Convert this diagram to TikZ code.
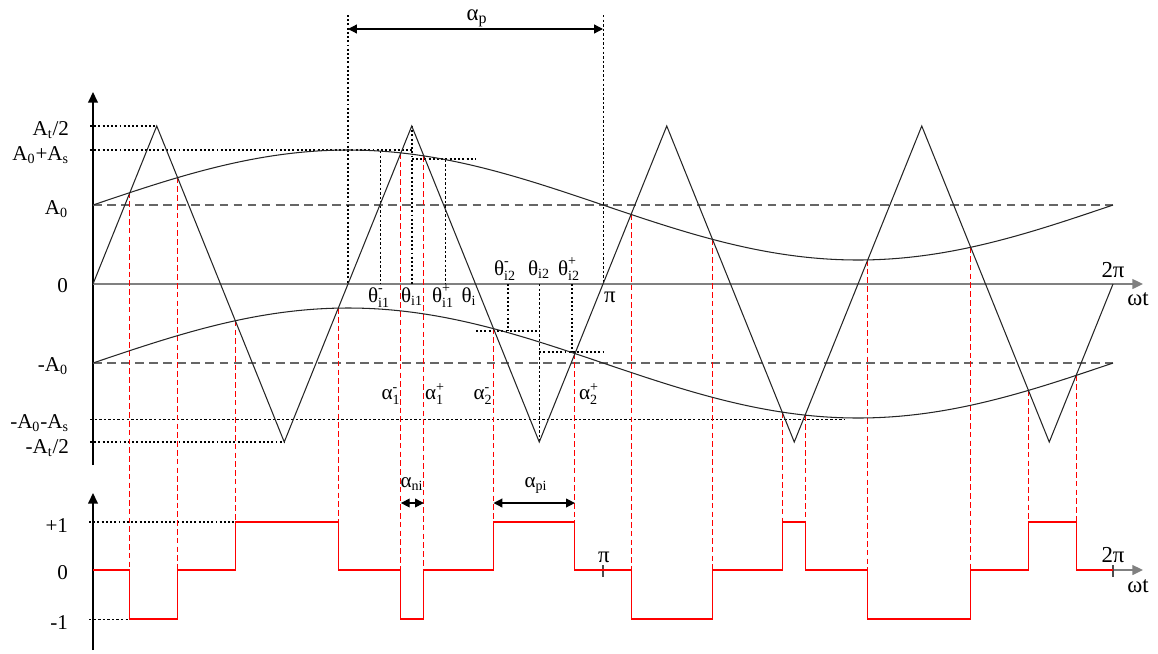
\documentclass[tikz,border=0pt]{standalone}
\usepackage{fontspec}
\setmainfont{Liberation Serif}
\usepackage{amsmath}
\usetikzlibrary{arrows.meta}
\newcommand\tx[1]{\text{#1}}
\begin{document}
\begin{tikzpicture}[x=0.02cm,y=-0.02cm,
  every node/.style={font=\fontsize{12}{14}\selectfont, inner sep=0pt, outer sep=0pt},
  leftlbl/.style={anchor=base east},
  midlbl/.style={anchor=base},
  biglbl/.style={anchor=base, font=\fontsize{13}{15}\selectfont},
  axisline/.style={line width=0.8pt, black, -{Triangle[length=6pt,width=5.5pt]}},
  zeroline/.style={line width=1.1pt, black!50, -{Triangle[length=6pt,width=5.5pt]}},
  wave/.style={line width=0.6pt, black!85},
  refdash/.style={line width=0.7pt, black!60, dash pattern=on 5pt off 3pt},
  thickdot/.style={line width=1.1pt, black, dash pattern=on 1.1pt off 1.3pt},
  thindot/.style={line width=0.55pt, black, dash pattern=on 1.4pt off 1.2pt},
  reddash/.style={line width=0.6pt, red, dash pattern=on 3.2pt off 1.8pt},
  pwm/.style={line width=0.6pt, red},
  tickmark/.style={line width=0.6pt, black!70},
  dimarrow/.style={line width=0.7pt, {Triangle[length=5pt,width=5pt]}-{Triangle[length=5pt,width=5pt]}}
]
\useasboundingbox (0,0) rectangle (1158,653);

% ---------- axes ----------
\coordinate (ua0) at (93,465);
\coordinate (ua1) at (93,92);
\coordinate (uz0) at (93,284);
\coordinate (uz1) at (1143,284);
\coordinate (la0) at (93,650);
\coordinate (la1) at (93,493);
\coordinate (lz0) at (1113,570);
\coordinate (lz1) at (1143,570);
\draw[axisline] (ua0) -- (ua1);
\draw[zeroline] (uz0) -- (uz1);
\draw[axisline] (la0) -- (la1);
\draw[zeroline] (lz0) -- (lz1);
\draw[tickmark] (603,565) -- (603,577);
\draw[tickmark] (1113,565) -- (1113,577);

% ---------- reference levels ----------
\draw[refdash] (93,205) -- (1113,205);
\draw[refdash] (93,363) -- (1113,363);
\draw[thickdot] (90,126) -- (156.75,126);
\draw[thickdot] (90,150) -- (411.75,150);
\draw[thindot] (90,419) -- (845,419);
\draw[thickdot] (90,442) -- (284.25,442);
\draw[thickdot] (89,522) -- (235.3,522);
\draw[thindot] (89,619) -- (129.9,619);

% ---------- alpha_p guides ----------
\coordinate (ap0) at (348,29);
\coordinate (ap1) at (603,29);
\draw[thickdot] (348,15) -- (348,284);
\draw[thindot] (603,15) -- (603,284);
\draw[dimarrow] (ap0) -- (ap1);

% ---------- sampling guides ----------
\draw[thindot] (380,151) -- (380,284);
\draw[thickdot] (411.75,126) -- (411.75,284);
\draw[thickdot] (411.75,159) -- (475.5,159);
\draw[thindot] (445,159.5) -- (445,284);
\draw[thickdot] (508,284) -- (508,331);
\draw[thickdot] (476,331) -- (539.25,331);
\draw[thindot] (539.25,284) -- (539.25,442);
\draw[thickdot] (572,284) -- (572,352);
\draw[thickdot] (539.25,352) -- (603,352);

% ---------- red projection lines ----------
\foreach \x in {129.9,177.6,400.9,423.8,631.1,712.4,867.75,970.75}
  \draw[reddash] (\x,{205-55*sin((\x-93)*0.3529412)}) -- (\x,570);
\foreach \x in {235.3,338.3,493.5,574.9,782.2,805.1,1028.6,1076.1}
  \draw[reddash] (\x,{363-55*sin((\x-93)*0.3529412)}) -- (\x,522);

% ---------- waves ----------
\draw[wave] plot[domain=93:1113, samples=120, smooth] (\x,{205-55*sin((\x-93)*0.3529412)});
\draw[wave] plot[domain=93:1113, samples=120, smooth] (\x,{363-55*sin((\x-93)*0.3529412)});
\draw[wave] (93,284) -- (156.75,126) -- (284.25,442) -- (411.75,126) -- (539.25,442)
  -- (666.75,126) -- (794.25,442) -- (921.75,126) -- (1049.25,442) -- (1113,284);

% ---------- PWM output ----------
\draw[pwm] (93,570) -- (129.9,570) -- (129.9,619) -- (177.6,619) -- (177.6,570)
  -- (235.3,570) -- (235.3,522) -- (338.3,522) -- (338.3,570)
  -- (400.9,570) -- (400.9,619) -- (423.8,619) -- (423.8,570)
  -- (493.5,570) -- (493.5,522) -- (574.9,522) -- (574.9,570)
  -- (631.1,570) -- (631.1,619) -- (712.4,619) -- (712.4,570)
  -- (782.2,570) -- (782.2,522) -- (805.1,522) -- (805.1,570)
  -- (867.75,570) -- (867.75,619) -- (970.75,619) -- (970.75,570)
  -- (1028.6,570) -- (1028.6,522) -- (1076.1,522) -- (1076.1,570) -- (1113,570);

% ---------- pulse width arrows ----------
\coordinate (an0) at (400.9,503);
\coordinate (an1) at (423.8,503);
\coordinate (pi0) at (493.5,503);
\coordinate (pi1) at (574.9,503);
\draw[dimarrow] (an0) -- (an1);
\draw[dimarrow] (pi0) -- (pi1);

% ---------- labels ----------
\node[leftlbl] (lAt) at (69,135) {$\tx{A}_{\tx{t}}\tx{/2}$};
\node[leftlbl] (lAs) at (69,160) {$\tx{A}_{\tx{0}}\tx{+A}_{\tx{s}}$};
\node[leftlbl] (lA0) at (68,214) {$\tx{A}_{\tx{0}}$};
\node[leftlbl] (l0) at (68,292) {0};
\node[leftlbl] (lmA0) at (68,371) {$\tx{-A}_{\tx{0}}$};
\node[leftlbl] (lmAs) at (69,428) {$\tx{-A}_{\tx{0}}\tx{-A}_{\tx{s}}$};
\node[leftlbl] (lmAt) at (69,453) {$\tx{-A}_{\tx{t}}\tx{/2}$};
\node[leftlbl] (lp1) at (68,532) {+1};
\node[leftlbl] (lb0) at (68,579) {0};
\node[leftlbl] (lm1) at (68,629) {-1};

\node[biglbl] (tap) at (477,20) {$\tx{α}_{\tx{p}}$};
\node[midlbl] (t1m) at (379,302) {$\tx{θ}^{\tx{-}}_{\tx{i1}}$};
\node[midlbl] (t1) at (412,302) {$\tx{θ}_{\tx{i1}}$};
\node[midlbl] (t1p) at (443,302) {$\tx{θ}^{\tx{+}}_{\tx{i1}}$};
\node[midlbl] (ti) at (469,302) {$\tx{θ}_{\tx{i}}$};
\node[midlbl] (t2m) at (505,275) {$\tx{θ}^{\tx{-}}_{\tx{i2}}$};
\node[midlbl] (t2) at (539,275) {$\tx{θ}_{\tx{i2}}$};
\node[midlbl] (t2p) at (569,275) {$\tx{θ}^{\tx{+}}_{\tx{i2}}$};
\node[biglbl] (upi) at (610,302) {π};
\node[biglbl] (u2pi) at (1113,277) {2π};
\node[biglbl] (uwt) at (1138,305) {ωt};
\node[midlbl] (a1m) at (391,399) {$\tx{α}^{\tx{-}}_{\tx{1}}$};
\node[midlbl] (a1p) at (435,399) {$\tx{α}^{\tx{+}}_{\tx{1}}$};
\node[midlbl] (a2m) at (483,399) {$\tx{α}^{\tx{-}}_{\tx{2}}$};
\node[midlbl] (a2p) at (589,399) {$\tx{α}^{\tx{+}}_{\tx{2}}$};
\node[midlbl] (ani) at (412,487) {$\tx{α}_{\tx{ni}}$};
\node[midlbl] (api) at (536,487) {$\tx{α}_{\tx{pi}}$};
\node[biglbl] (bpi) at (604,562) {π};
\node[biglbl] (b2pi) at (1113,562) {2π};
\node[biglbl] (bwt) at (1138,592) {ωt};
\end{tikzpicture}
\end{document}
